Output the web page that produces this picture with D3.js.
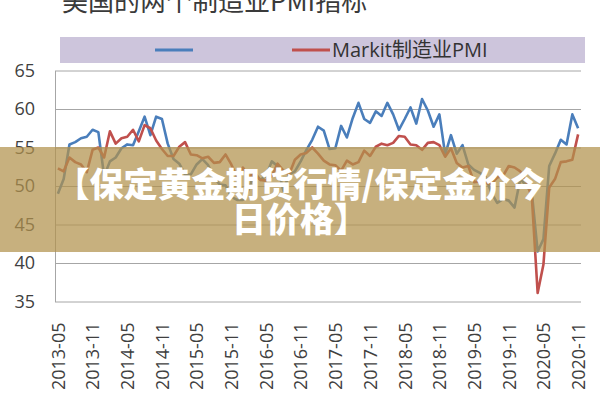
<!DOCTYPE html>
<html>
<head>
<meta charset="utf-8">
<script src="https://cdn.jsdelivr.net/npm/d3@7"></script>
<style>
  html, body { margin: 0; padding: 0; background: #fff; }
  svg { display: block; }
</style>
</head>
<body>
<svg id="chart" width="600" height="400"></svg>
<script>
// ---------- data ----------
const title = "美国的两个制造业PMI指标";
const seriesNames = ["ISM制造业PMI", "Markit制造业PMI"];
const bannerLines = ["【保定黄金期货行情/保定金价今", "日价格】"];

const startMonth = "2013-05";
const endMonth = "2020-11";

const tickLabels = ["2013-05","2013-11","2014-05","2014-11","2015-05","2015-11",
  "2016-05","2016-11","2017-05","2017-11","2018-05","2018-11","2019-05","2019-11",
  "2020-05","2020-11"];
const yTicks = [35, 40, 45, 50, 55, 60, 65];

// ISM manufacturing PMI (blue), monthly 2013-05 .. 2020-11
const ismValues = [
  49.0, 50.9, 55.4, 55.7, 56.2, 56.4, 57.3, 57.0,
  51.3, 53.2, 53.7, 54.9, 55.4, 55.3, 57.1, 59.0, 56.6, 59.0, 58.7, 55.5,
  53.5, 52.9, 51.5, 51.5, 52.8, 53.5, 52.7, 51.1, 50.2, 50.1, 48.6, 48.2,
  48.2, 49.5, 51.8, 50.8, 51.3, 53.2, 52.6, 49.4, 51.5, 51.9, 53.2, 54.7,
  56.0, 57.7, 57.2, 54.8, 54.9, 57.8, 56.3, 58.8, 60.8, 58.7, 58.2, 59.7,
  59.1, 60.8, 59.3, 57.3, 58.7, 60.2, 58.1, 61.3, 59.8, 57.7, 59.3, 54.1,
  56.6, 54.2, 55.3, 52.8, 52.1, 51.7, 51.2, 49.1, 47.8, 48.3, 48.1, 47.2,
  50.9, 50.1, 49.1, 41.5, 43.1, 52.6, 54.2, 56.0, 55.4, 59.3, 57.5
];
// Markit manufacturing PMI (red), monthly 2013-05 .. 2020-11
const markitValues = [
  52.3, 51.9, 53.7, 53.1, 52.8, 51.8, 54.7, 55.0,
  53.7, 57.1, 55.5, 56.2, 56.4, 57.3, 55.8, 57.9, 57.5, 55.9, 54.8, 53.9,
  53.9, 55.1, 55.7, 54.1, 54.0, 53.6, 53.8, 53.0, 53.1, 54.1, 52.8, 51.2,
  52.4, 51.3, 51.5, 50.8, 50.7, 51.3, 52.9, 52.0, 51.5, 53.4, 54.1, 54.3,
  55.0, 54.2, 53.3, 52.8, 52.7, 52.0, 53.3, 52.8, 53.1, 54.6, 53.9, 55.1,
  55.5, 55.3, 55.6, 56.5, 56.4, 55.4, 55.3, 54.7, 55.6, 55.7, 55.3, 53.8,
  54.9, 53.0, 52.4, 52.6, 50.5, 50.6, 50.4, 50.3, 51.1, 51.3, 52.6, 52.4,
  51.9, 50.7, 48.5, 36.1, 39.8, 49.8, 50.9, 53.1, 53.2, 53.4, 56.7
];

// ---------- build ----------
const parseM = d3.timeParse("%Y-%m");
const fmtM = d3.timeFormat("%Y-%m");
const categories = d3.timeMonth.range(parseM(startMonth), d3.timeMonth.offset(parseM(endMonth), 1)).map(fmtM);

const svg = d3.select("#chart");
const W = 600, H = 400;
const plot = { left: 55, right: 581, top: 70.5, bottom: 301.5 };

const x = d3.scalePoint().domain(categories).range([plot.left, plot.right]).padding(0.5);
const y = d3.scaleLinear().domain([35, 65]).range([plot.bottom, plot.top]);

const latinCJK = "'Open Sans', 'Noto Sans CJK SC', sans-serif";

// title (cut off at top)
svg.append("text")
  .attr("x", 62).attr("y", 11)
  .attr("font-family", "'Noto Sans CJK SC', sans-serif")
  .attr("font-size", 26)
  .attr("fill", "#3a3a3a")
  .text(title);

// legend band
svg.append("rect")
  .attr("x", 60).attr("y", 37).attr("width", 525).attr("height", 26)
  .attr("fill", "#cdc5dc");
const legendItems = [
  { name: "", color: "#4a7ebb", x0: 155 },
  { name: seriesNames[1], color: "#c0504d", x0: 292 }
];
legendItems.forEach(it => {
  svg.append("line")
    .attr("x1", it.x0).attr("x2", it.x0 + 38)
    .attr("y1", 50).attr("y2", 50)
    .attr("stroke", it.color).attr("stroke-width", 3);
  if (it.name) {
    svg.append("text")
      .attr("x", it.x0 + 40).attr("y", 50).attr("dy", "0.36em")
      .attr("font-family", latinCJK).attr("font-size", 20)
      .attr("fill", "#333").text(it.name);
  }
});

// gridlines
const grid = svg.append("g").attr("transform", `translate(${plot.left},0)`)
  .call(d3.axisLeft(y).tickValues(yTicks).tickSize(-(plot.right - plot.left)).tickFormat(""));
grid.select(".domain").remove();
grid.selectAll(".tick line").attr("stroke", "#a6a6a6").attr("stroke-width", 1);

// y axis labels
const yAxis = svg.append("g").attr("transform", `translate(${plot.left},0)`)
  .call(d3.axisLeft(y).tickValues(yTicks).tickSize(0).tickPadding(20));
yAxis.select(".domain").attr("stroke", "#a6a6a6");
yAxis.selectAll("text").attr("font-family", latinCJK).attr("font-size", 18).attr("fill", "#404040");

// x axis labels
const xAxis = svg.append("g").attr("transform", `translate(0,${plot.bottom})`)
  .call(d3.axisBottom(x).tickValues(tickLabels).tickSize(0));
xAxis.select(".domain").remove();
xAxis.selectAll("text")
  .attr("font-family", latinCJK).attr("font-size", 18).attr("fill", "#404040")
  .attr("text-anchor", "end")
  .attr("transform", "rotate(-90)")
  .attr("x", -21).attr("y", 0).attr("dy", "0.35em");

// lines
const lineGen = d3.line().x((d, i) => x(categories[i])).y(d => y(d));
svg.append("path").datum(ismValues)
  .attr("d", lineGen).attr("fill", "none")
  .attr("stroke", "#4a7ebb").attr("stroke-width", 2.6).attr("stroke-linejoin", "round");
svg.append("path").datum(markitValues)
  .attr("d", lineGen).attr("fill", "none")
  .attr("stroke", "#c0504d").attr("stroke-width", 2.6).attr("stroke-linejoin", "round");

// overlay banner
svg.append("rect")
  .attr("x", 0).attr("y", 147).attr("width", W).attr("height", 105)
  .attr("fill", "rgb(178,146,76)").attr("fill-opacity", 0.72);
bannerLines.forEach((t, i) => {
  svg.append("text")
    .attr("x", W / 2).attr("y", 185 + i * 35).attr("dy", "0.36em")
    .attr("text-anchor", "middle")
    .attr("font-family", "'Noto Sans CJK SC', sans-serif")
    .attr("font-weight", 900).attr("font-size", 34)
    .attr("fill", "#fff").text(t);
});
</script>
</body>
</html>
